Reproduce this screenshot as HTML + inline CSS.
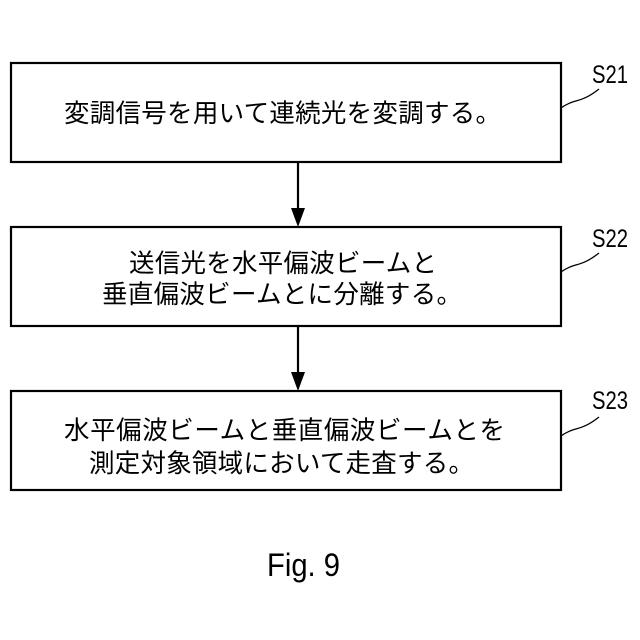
<!DOCTYPE html>
<html><head><meta charset="utf-8"><style>html,body{margin:0;padding:0;background:#fff}svg{display:block}</style></head>
<body>
<svg width="640" height="640" viewBox="0 0 640 640" xmlns="http://www.w3.org/2000/svg">
<g fill="none" stroke="#000" stroke-width="2.2">
<rect x="11" y="63" width="550" height="99"/>
<rect x="11" y="227" width="550" height="99"/>
<rect x="11" y="391" width="550" height="99"/>
<line x1="298" y1="162" x2="298" y2="210"/>
<line x1="298" y1="326" x2="298" y2="374"/>
<path d="M561 108 C575 98,580 104,599 89" stroke-width="1.3"/>
<path d="M561 272 C575 262,580 268,599 253" stroke-width="1.3"/>
<path d="M561 436 C575 426,580 432,599 417" stroke-width="1.3"/>
</g>
<polygon points="291,208 305,208 298,227" fill="#000"/>
<polygon points="291,372 305,372 298,391" fill="#000"/>
<g font-family="'Liberation Sans','Noto Sans CJK JP',sans-serif" font-size="25.5" fill="#000">
<text x="64" y="122" textLength="437" lengthAdjust="spacing">変調信号を用いて連続光を変調する。</text>
<text x="129" y="272" textLength="308" lengthAdjust="spacing">送信光を水平偏波ビームと</text>
<text x="102" y="303" textLength="360" lengthAdjust="spacing">垂直偏波ビームとに分離する。</text>
<text x="64" y="439" textLength="441" lengthAdjust="spacing">水平偏波ビームと垂直偏波ビームとを</text>
<text x="89" y="472" textLength="385" lengthAdjust="spacing">測定対象領域において走査する。</text>
</g>
<g font-family="'Liberation Sans',sans-serif" font-size="25" fill="#000">
<text x="592" y="83" textLength="36" lengthAdjust="spacingAndGlyphs">S21</text>
<text x="592" y="247" textLength="36" lengthAdjust="spacingAndGlyphs">S22</text>
<text x="592" y="409" textLength="36" lengthAdjust="spacingAndGlyphs">S23</text>
<text x="267" y="576" font-size="32" textLength="73" lengthAdjust="spacingAndGlyphs">Fig. 9</text>
</g>
</svg>
</body></html>
